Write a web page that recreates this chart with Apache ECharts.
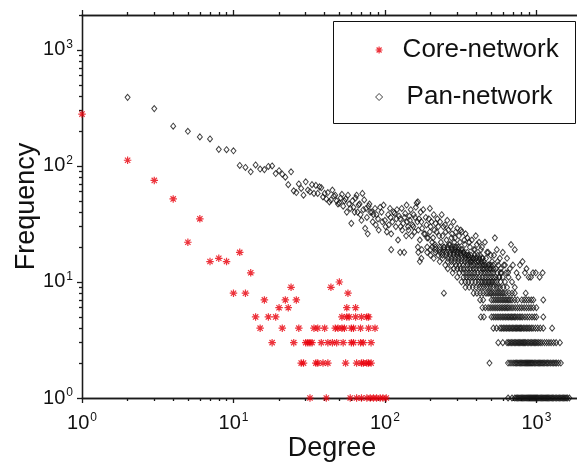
<!DOCTYPE html>
<html>
<head>
<meta charset="utf-8">
<script src="https://cdn.jsdelivr.net/npm/echarts@6/dist/echarts.min.js"></script>
<style>
html,body{margin:0;padding:0;background:#fff;}
#chart{width:577px;height:462px;}
</style>
</head>
<body>
<div id="chart"></div>
<script>
// ---------- data ----------
const majorTicks = [1, 10, 100, 1000];
const minorTicks = [2,3,4,5,6,7,8,9,20,30,40,50,60,70,80,90,200,300,400,500,600,700,800,900,2000];

// Core-network: [degree, frequency]
const coreNetwork = [
 [1,280],[2,112],[3,75],[4,52],[5,22],[6,35],[7,15],[8,16],[9,15],[10,8],[11,18],[12,8],[13,12],
 [14,5],[15,4],[16,7],[17,5],[18,3],[19,5],[20,6],[21,4],[22,7],[23,6],[24,9],[25,3],[26,7],[27,4],
 [28,2],[29,2],[30,3],[31,3],[32,3],[32,1],[33,3],[34,4],[35,2],[36,4],[36,2],[38,3],[39,2],[40,4],
 [41,1],[42,3],[42,2],[44,9],[45,3],[47,4],[48,3],[49,4],[50,10],[52,5],[52,4],[53,3],[54,4],
 [55,2],[56,6],[56,5],[57,8],[58,5],[59,1],[60,3],[60,4],[62,4],[62,3],[64,5],[64,6],[65,2],[65,1],
 [69,4],[69,3],[70,5],[70,2],[70,1],[72,2],[72,3],[76,2],[76,1],[76,5],[78,5],[78,4],[78,2],[80,1],
 [81,3],[81,2],[84,1],[86,4],[88,1],[93,1],[97,1],[102,1]
];

// Pan-network: individually read points of the upper / sparse part
const panCloud = [
 [2,390],[3,312],[4,220],[5,199],[6,178],[7,171],[8,139],[9,138],[10,135],[11,101],[12,97],[13,89],
 [14,102],[15,94],[16,93],[17,99],[18,100],[19,86],[20,91],[21,85],[22,80],[23,69],[24,89],[25,61],
 [26,59],[27,70],[28,64],[29,56],[30,73],[31,62],[32,60],[33,69],[34,58],[35,68],[36,58],[37,66],
 [38,65],[39,54],[40,58],[41,52],[42,59],[43,49],[44,51],[45,62],[46,55],[47,56],[48,50],[49,47],
 [50,48],[51,53],[52,57],[53,45],[54,50],[55,52],[56,40],[57,56],[58,47],[59,43],[60,32],[61,50],
 [62,44],[63,40],[64,53],[65,56],[66,40],[67,46],[68,47],[69,38],[70,34],[71,58],[72,42],[73,51],
 [74,29],[75,43],[76,36],[77,26],[78,45],[79,47],[80,40],[82,40],[83,33],[84,38],[86,43],[87,31],
 [88,38],[90,35],[91,28],[93,44],[95,40],[96,33],[98,46],[100,34],[101,30],[103,27],[105,38],[106,31],
 [108,43],[109,36],[110,26],[110,19],[112,33],[114,40],[116,39],[118,30],[119,35],[120,42],[122,23],
 [124,37],[126,35],[126,18],[127,30],[129,43],[130,28],[132,32],[134,18],[135,36],[136,39],[138,25],
 [139,46],[140,33],[142,30],[143,28],[145,37],[146,34],[148,42],[150,25],[152,31],[154,30],[155,38],
 [157,27],[158,36],[160,44],[162,48],[164,33],[165,49],[166,28],[166,18],[168,35],[170,23],[170,15],
 [172,40],[174,33],[174,16],[176,29],[179,42],[181,26],[184,26],[186,36],[188,31],[190,24],[193,24],
 [195,35],[198,27],[198,43],[200,30],[203,33],[205,22],[208,24],[210,38],[212,28],[214,21],[216,32],
 [219,27],[222,35],[225,30],[228,25],[231,33],[234,22],[237,38],[240,25],[243,30],[245,8],[246,20],
 [249,31],[252,27],[255,23],[258,34],[262,28],[265,21],[269,21],[272,30],[275,24],[277,26],[280,19],
 [284,33],[287,22],[290,24],[294,27],[297,20],[300,29],[303,18],[305,20],[308,25],[313,22],[317,28],
 [322,27],[326,19],[330,18],[334,23],[337,21],[341,26],[345,17],[350,24],[355,17],[360,22],[364,20],
 [370,15],[375,23],[382,16],[387,19],[393,19],[398,25],[405,21],[410,17],[412,15],[418,22],[424,17],
 [430,19],[437,20],[443,16],[450,14],[457,22],[465,16],[472,18],[480,18],[486,14],[493,13],[500,17],
 [510,15],[518,14],[525,17],[532,24],[540,13],[548,19],[555,15],[565,11],[574,16],[582,13],[590,12],
 [600,18],[610,14],[620,14],[630,12],[640,16],[655,11],[668,13],[680,21],[700,14],[720,19],[740,12],
 [760,11],[778,14],[810,15],[840,12],[860,13],[890,11],[920,11],[950,12],[990,12],[1050,11],[1100,12]
];

// Pan-network: degrees that appear in each integer-frequency row
const panF1  = [650,690,720,735,750,765,780,795,810,825,840,855,870,885,900,915,930,945,960,975,990,1005,1020,1040,1060,1080,1100,1120,1140,1160,1180,1200,1225,1250,1275,1300,1330,1360,1390,1420,1450,1480,1510,1540,1570,1600,1650];
const panF2  = [490,650,670,690,710,725,740,755,770,785,800,815,830,845,860,875,890,905,920,935,950,970,990,1010,1030,1050,1070,1090,1110,1135,1160,1185,1210,1240,1270,1300,1330,1360,1400,1450];
const panF3  = [560,600,640,655,670,685,700,715,730,745,760,775,790,805,820,835,850,870,890,910,930,950,970,990,1010,1035,1060,1090,1130,1170,1210,1250,1300,1350,1430];
const panF4  = [520,546,575,590,605,620,635,650,665,680,695,710,725,740,755,770,785,800,820,840,860,880,900,925,950,985,1020,1060,1110,1270];
const panF5  = [430,450,505,520,535,550,565,580,595,610,625,640,655,670,685,700,715,730,750,770,790,810,840,870,900,935,970,1000,1110];
const panF6  = [440,460,480,495,510,525,540,555,570,585,600,615,630,645,660,680,700,725,750,775,800,830,860,890,920,955,1000];
const panF7  = [425,445,505,520,535,550,565,580,595,610,625,640,655,670,690,720,750,800,830,860,890,925,955,1110];
const panF8  = [385,405,425,445,465,480,495,505,520,535,550,565,580,595,610,630,660,690,720,850];
const panF9  = [340,360,380,400,420,435,450,470,485,500,520,545,560,575,605,640,720];
const panF10 = [320,340,355,375,395,415,430,440,455,465,480,490,505,515,530,545,580,620,690];
const panF11 = [300,330,345,360,375,390,405,420,440,460,480,500,520,540,570,600];
const panF12 = [280,310,330,345,360,375,390,410,430,445,460,480,500,520,550,580,650];
const panF13 = [260,285,300,315,330,350,365,385,400,420,440,455,475,495,520];
const panF14 = [250,275,295,310,330,350,370,385,405,420,440,460,480,500,560];
const panF15 = [230,260,275,290,305,320,335,350,365,380,400,415,435,450];
const panF16 = [210,240,260,275,290,305,320,340,355,370,385,400,420,440];
const panF17 = [200,225,240,255,270,285,300,320,335,355,370,390];
const panF18 = [190,215,230,240,255,270,285,300,315,330,350];
const panF19 = [175,200,215,230,245,260,275,290,305,320];
const panF20 = [165,190,205,215,230,245,260,275,290];

// ---------- build ----------
const panRows = [panF1,panF2,panF3,panF4,panF5,panF6,panF7,panF8,panF9,panF10,
                 panF11,panF12,panF13,panF14,panF15,panF16,panF17,panF18,panF19,panF20];
const panNetwork = panCloud.slice();
panRows.forEach(function (row, i) {
  row.forEach(function (d) { panNetwork.push([d, i + 1]); });
});

const FONT = "'Liberation Sans', Arial, Helvetica, sans-serif";
const INK = '#111';
const RED = '#e8000b';
const ASTERISK = 'path://M5,0L5,10M0,5L10,5M1.46,1.46L8.54,8.54M8.54,1.46L1.46,8.54';

const richLabel = {
  b: {fontSize: 20, fontFamily: FONT, color: INK, lineHeight: 22},
  s: {fontSize: 12, fontFamily: FONT, color: INK, verticalAlign: 'top', lineHeight: 12, padding: [0, 0, 0, 1]}
};
function powLabel(v) {
  return '{b|10}{s|' + Math.round(Math.log(v) / Math.LN10) + '}';
}
const lineStyle = {color: '#1a1a1a', width: 1.3};

function logAxis(extra) {
  return Object.assign({
    type: 'log', logBase: 10, min: 1, max: 2000,
    splitLine: {show: false},
    axisLine: {show: true, onZero: false, lineStyle: lineStyle}
  }, extra);
}

const xAxes = [
  logAxis({position: 'bottom',
    axisTick: {show: true, inside: false, length: 5, customValues: majorTicks, lineStyle: lineStyle},
    axisLabel: {show: true, customValues: majorTicks, formatter: powLabel, rich: richLabel, margin: 14},
    name: 'Degree', nameLocation: 'middle', nameGap: 37, nameMoveOverlap: false,
    nameTextStyle: {fontSize: 27, fontFamily: FONT, color: INK}}),
  logAxis({position: 'bottom',
    axisTick: {show: true, inside: false, length: 3, customValues: minorTicks, lineStyle: lineStyle},
    axisLabel: {show: false}}),
  logAxis({position: 'top',
    axisTick: {show: true, inside: false, length: 5, customValues: majorTicks, lineStyle: lineStyle},
    axisLabel: {show: false}}),
  logAxis({position: 'top',
    axisTick: {show: true, inside: false, length: 3, customValues: minorTicks, lineStyle: lineStyle},
    axisLabel: {show: false}})
];
const yAxes = [
  logAxis({position: 'left',
    axisTick: {show: true, inside: false, length: 5, customValues: majorTicks, lineStyle: lineStyle},
    axisLabel: {show: true, customValues: majorTicks, formatter: powLabel, rich: richLabel, margin: 9},
    name: 'Frequency', nameLocation: 'middle', nameGap: 42, nameRotate: 90, nameMoveOverlap: false,
    nameTextStyle: {fontSize: 27, fontFamily: FONT, color: INK}}),
  logAxis({position: 'left',
    axisTick: {show: true, inside: false, length: 3, customValues: minorTicks, lineStyle: lineStyle},
    axisLabel: {show: false}})
];

const chart = echarts.init(document.getElementById('chart'), null, {renderer: 'canvas'});
chart.setOption({
  animation: false,
  backgroundColor: '#fff',
  grid: {left: 82, right: -5, top: 15, bottom: 64, containLabel: false, outerBoundsMode: 'none'},
  xAxis: xAxes,
  yAxis: yAxes,
  graphic: [{
    type: 'rect', z: 0, silent: true,
    shape: {x: 333.5, y: 21.5, width: 242, height: 102},
    style: {fill: '#fff', stroke: '#111', lineWidth: 1}
  }],
  legend: {
    orient: 'vertical', left: 370, top: 30, padding: 5,
    itemWidth: 7, itemHeight: 7, itemGap: 17,
    textStyle: {fontSize: 26, fontFamily: FONT, color: INK, lineHeight: 30, padding: [0, 0, 0, 15]},
    data: [
      {name: 'Core-network', icon: ASTERISK,
       itemStyle: {color: RED, borderColor: RED, borderWidth: 1.2}},
      {name: 'Pan-network', icon: 'diamond',
       itemStyle: {color: 'rgba(255,255,255,0)', borderColor: INK, borderWidth: 1},
       textStyle: {padding: [0, 0, 0, 19]}}
    ]
  },
  series: [
    {
      name: 'Pan-network', type: 'scatter', xAxisIndex: 0, yAxisIndex: 0,
      symbol: 'diamond', symbolSize: [5, 6],
      itemStyle: {color: 'rgba(255,255,255,0)', borderColor: INK, borderWidth: 1},
      data: panNetwork, clip: false
    },
    {
      name: 'Core-network', type: 'scatter', xAxisIndex: 0, yAxisIndex: 0,
      symbol: ASTERISK, symbolSize: 7.5,
      itemStyle: {color: RED, borderColor: RED, borderWidth: 1.2},
      data: coreNetwork, clip: false
    }
  ]
});
</script>
</body>
</html>
